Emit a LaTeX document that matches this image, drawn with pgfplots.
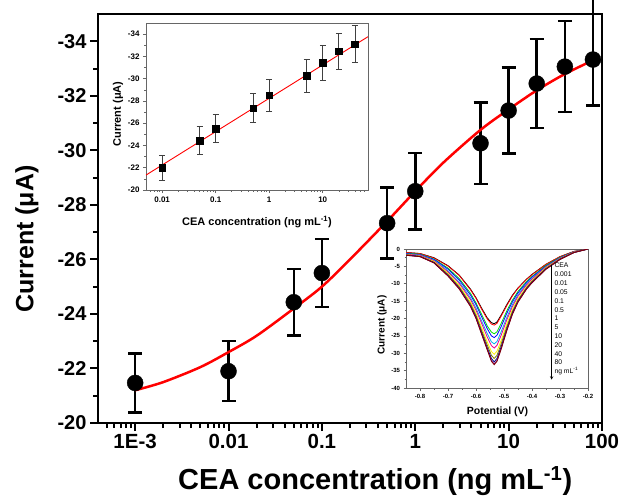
\documentclass[border=0pt]{standalone}
\usepackage{fontspec}
\setmainfont{Liberation Sans}
\usepackage{pgfplots}
\usepackage{pgfplotstable}
\pgfplotsset{compat=1.18}

\definecolor{cOlive}{HTML}{808000}
\definecolor{cNavy}{HTML}{000080}
\definecolor{cPurple}{HTML}{800080}
\definecolor{cWine}{HTML}{800000}
\definecolor{cGreen}{HTML}{00E000}

% DPV curves, one column per CEA concentration
\pgfplotstableread{
x      c1    c2    c3    c4    c5    c6    c7    c8    c9    c10   c11
-0.85  -1.0  -1.0  -1.2  -1.3  -1.4  -1.5  -1.6  -1.7  -1.7  -1.8  -1.8
-0.80  -1.3  -1.3  -1.5  -1.6  -1.7  -1.8  -2.0  -2.1  -2.1  -2.2  -2.2
-0.75  -2.5  -2.6  -2.9  -3.0  -3.2  -3.4  -3.6  -3.8  -3.9  -4.0  -4.0
-0.70  -4.8  -4.9  -5.5  -5.8  -6.3  -6.6  -7.0  -7.3  -7.6  -7.7  -7.8
-0.66  -7.5  -7.6  -8.5  -8.9  -9.5  -9.9  -10.5 -10.9 -11.2 -11.4 -11.5
-0.62  -11.5 -11.7 -12.7 -13.2 -14.0 -14.5 -15.2 -15.7 -16.2 -16.4 -16.5
-0.60  -14.0 -14.2 -15.5 -16.0 -17.0 -17.6 -18.5 -19.1 -19.6 -19.9 -20.0
-0.58  -17.0 -17.3 -18.8 -19.5 -20.7 -21.4 -22.6 -23.4 -24.0 -24.4 -24.5
-0.56  -19.8 -20.1 -22.1 -22.9 -24.3 -25.3 -26.7 -27.6 -28.4 -28.8 -29.0
-0.545 -21.2 -21.6 -23.9 -25.0 -26.7 -27.8 -29.5 -30.6 -31.5 -32.1 -32.3
-0.535 -21.5 -21.9 -24.4 -25.5 -27.3 -28.5 -30.3 -31.5 -32.5 -33.1 -33.3
-0.525 -21.0 -21.4 -23.8 -24.8 -26.6 -27.7 -29.4 -30.6 -31.5 -32.1 -32.3
-0.51  -19.0 -19.3 -21.4 -22.3 -23.8 -24.8 -26.3 -27.3 -28.1 -28.6 -28.8
-0.49  -16.0 -16.3 -17.8 -18.5 -19.7 -20.4 -21.6 -22.4 -23.0 -23.4 -23.5
-0.47  -13.3 -13.5 -14.7 -15.2 -16.0 -16.6 -17.4 -18.0 -18.4 -18.7 -18.8
-0.45  -11.2 -11.3 -12.2 -12.6 -13.2 -13.6 -14.3 -14.7 -15.0 -15.2 -15.3
-0.42  -8.7  -8.8  -9.4  -9.7  -10.1 -10.4 -10.9 -11.2 -11.4 -11.5 -11.6
-0.40  -7.3  -7.4  -7.9  -8.1  -8.5  -8.7  -9.1  -9.3  -9.5  -9.7  -9.7
-0.35  -4.4  -4.4  -4.7  -4.9  -5.1  -5.2  -5.4  -5.6  -5.7  -5.8  -5.8
-0.30  -2.2  -2.2  -2.4  -2.5  -2.6  -2.7  -2.8  -2.9  -2.9  -3.0  -3.0
-0.25  -0.7  -0.7  -0.8  -0.8  -0.9  -0.9  -0.9  -1.0  -1.0  -1.0  -1.0
-0.20   0.0   0.0   0.0   0.0   0.0   0.0   0.0   0.0   0.0   0.0   0.0
}\dpv

\begin{document}
\begin{tikzpicture}
\useasboundingbox (-98pt,-73pt) rectangle (524pt,423pt);

% main calibration plot
\begin{axis}[
    at={(0pt,0pt)}, anchor=south west,
    scale only axis, width=504pt, height=409pt,
    xmode=log, xmin=4e-4, xmax=100,
    ymin=-35, ymax=-20, y dir=reverse,
    xtick={0.001,0.01,0.1,1,10,100},
    xticklabels={1E-3,0.01,0.1,1,10,100},
    minor xtick={5e-4,6e-4,7e-4,8e-4,9e-4,
        2e-3,3e-3,4e-3,5e-3,6e-3,7e-3,8e-3,9e-3,
        0.02,0.03,0.04,0.05,0.06,0.07,0.08,0.09,
        0.2,0.3,0.4,0.5,0.6,0.7,0.8,0.9,
        2,3,4,5,6,7,8,9,20,30,40,50,60,70,80,90},
    ytick={-34,-32,-30,-28,-26,-24,-22,-20},
    yticklabels={-34,-32,-30,-28,-26,-24,-22,-20},
    minor y tick num=1,
    tick align=outside, axis line style={line width=2.5pt},
    every tick/.style={black, line width=2pt},
    major tick length=8pt, minor tick length=5pt,
    xtick pos=bottom, ytick pos=left,
    xticklabel style={font=\fontsize{20.5}{21}\selectfont\bfseries},
    yticklabel style={font=\fontsize{20}{21}\selectfont\bfseries},
    xlabel style={font=\fontsize{29}{30}\selectfont\bfseries,
        at={(axis description cs:0.55,-0.163)}, anchor=base},
    ylabel style={font=\fontsize{25}{26}\selectfont\bfseries,
        at={(axis description cs:-0.141,0.45)}, anchor=center},
    xlabel={CEA concentration (ng mL\textsuperscript{-1})},
    ylabel={Current (μA)},
    clip=false,
]
\addplot[only marks, mark=*, mark size=8pt, black,
    error bars/.cd, y dir=both, y explicit,
    error bar style={line width=2.5pt},
    error mark options={rotate=90, mark size=7pt, line width=2.5pt}]
coordinates {
    (0.001,-21.47) +- (0,1.08)
    (0.01,-21.9)   +- (0,1.1)
    (0.05,-24.43)  +- (0,1.22)
    (0.1,-25.5)    +- (0,1.25)
    (0.5,-27.33)   +- (0,1.3)
    (1,-28.5)      +- (0,1.4)
    (5,-30.26)     +- (0,1.5)
    (10,-31.46)    +- (0,1.57)
    (20,-32.45)    +- (0,1.63)
    (40,-33.07)    +- (0,1.67)
    (80,-33.33)    += (0,1.68) -= (0,2.4)
};
\addplot[red, line width=2.5pt, smooth] coordinates {
    (0.001,-21.2) (0.002,-21.5) (0.005,-22.05) (0.01,-22.6) (0.02,-23.2)
    (0.05,-24.2) (0.1,-25.0) (0.2,-26.0) (0.5,-27.4) (1,-28.5) (2,-29.55)
    (5,-30.75) (10,-31.5) (20,-32.2) (40,-32.8) (80,-33.3)
};
\end{axis}

% inset: linear range
\begin{axis}[
    at={(48pt,233pt)}, anchor=south west,
    scale only axis, width=222pt, height=167pt,
    xmode=log, xmin=5e-3, xmax=70,
    ymin=-35, ymax=-20, y dir=reverse,
    xtick={0.01,0.1,1,10},
    xticklabels={0.01,0.1,1,10},
    minor xtick={6e-3,7e-3,8e-3,9e-3,
        0.02,0.03,0.04,0.05,0.06,0.07,0.08,0.09,
        0.2,0.3,0.4,0.5,0.6,0.7,0.8,0.9,
        2,3,4,5,6,7,8,9,20,30,40,50,60},
    ytick={-34,-32,-30,-28,-26,-24,-22,-20},
    yticklabels={-34,-32,-30,-28,-26,-24,-22,-20},
    minor y tick num=1,
    tick align=outside, axis line style={gray!80!black, line width=0.8pt},
    every tick/.style={gray!80!black, line width=0.6pt},
    major tick length=3pt, minor tick length=1.8pt,
    xtick pos=bottom, ytick pos=left,
    tick label style={font=\fontsize{8}{9}\selectfont\bfseries},
    xlabel style={font=\fontsize{11}{12}\selectfont\bfseries,
        at={(axis description cs:0.50,-0.21)}, anchor=base},
    ylabel style={font=\fontsize{11}{12}\selectfont\bfseries,
        at={(axis description cs:-0.126,0.455)}, anchor=center},
    xlabel={CEA concentration (ng mL\textsuperscript{-1})},
    ylabel={Current (μA)},
]
\addplot[only marks, mark=square*, mark size=3.3pt, black,
    error bars/.cd, y dir=both, y explicit,
    error bar style={line width=0.8pt, black!75},
    error mark options={rotate=90, mark size=3pt, line width=0.8pt, black!75}]
coordinates {
    (0.01,-22.0)  +- (0,1.1)
    (0.05,-24.45) +- (0,1.22)
    (0.1,-25.5)   +- (0,1.25)
    (0.5,-27.35)  +- (0,1.3)
    (1,-28.5)     +- (0,1.4)
    (5,-30.25)    +- (0,1.5)
    (10,-31.45)   +- (0,1.57)
    (20,-32.45)   +- (0,1.63)
    (40,-33.1)    +- (0,1.67)
};
\addplot[red, line width=0.9pt] coordinates {(0.005,-21.34) (70,-33.77)};
\end{axis}

% inset: DPV responses
\begin{axis}[
    at={(308pt,35pt)}, anchor=south west,
    scale only axis, width=182pt, height=139pt,
    xmin=-0.85, xmax=-0.2, ymin=-40, ymax=0,
    xtick={-0.8,-0.7,-0.6,-0.5,-0.4,-0.3,-0.2},
    xticklabels={-0.8,-0.7,-0.6,-0.5,-0.4,-0.3,-0.2},
    ytick={-40,-35,-30,-25,-20,-15,-10,-5,0},
    yticklabels={-40,-35,-30,-25,-20,-15,-10,-5,0},
    minor x tick num=1, minor y tick num=1,
    tick align=outside, axis line style={gray!80!black, line width=0.8pt},
    every tick/.style={gray!80!black, line width=0.6pt},
    major tick length=2.5pt, minor tick length=1.5pt,
    xtick pos=bottom, ytick pos=left,
    tick label style={font=\fontsize{6}{7}\selectfont\bfseries},
    xlabel style={font=\fontsize{10.5}{11}\selectfont\bfseries,
        at={(axis description cs:0.503,-0.194)}, anchor=base},
    ylabel style={font=\fontsize{10}{11}\selectfont\bfseries,
        at={(axis description cs:-0.132,0.453)}, anchor=center},
    xlabel={Potential (V)},
    ylabel={Current (μA)},
    every axis plot/.append style={line width=0.8pt},
]
\addplot[black]   table[y=c1]  {\dpv};
\addplot[red]     table[y=c2]  {\dpv};
\addplot[cGreen]  table[y=c3]  {\dpv};
\addplot[blue]    table[y=c4]  {\dpv};
\addplot[cyan]    table[y=c5]  {\dpv};
\addplot[magenta] table[y=c6]  {\dpv};
\addplot[yellow]  table[y=c7]  {\dpv};
\addplot[cOlive]  table[y=c8]  {\dpv};
\addplot[cNavy]   table[y=c9]  {\dpv};
\addplot[cPurple] table[y=c10] {\dpv};
\addplot[cWine]   table[y=c11] {\dpv};
\draw[line width=0.5pt, ->, >=stealth] (rel axis cs:0.80,0.885) -- (rel axis cs:0.80,0.06);
\node[anchor=north west, align=left, inner sep=0pt,
      font=\fontsize{6.8}{8.83}\selectfont]
  at (rel axis cs:0.815,0.90)
  {CEA\\0.001\\0.01\\0.05\\0.1\\0.5\\1\\5\\10\\20\\40\\80\\ng mL\textsuperscript{-1}};
\end{axis}
\end{tikzpicture}
\end{document}
